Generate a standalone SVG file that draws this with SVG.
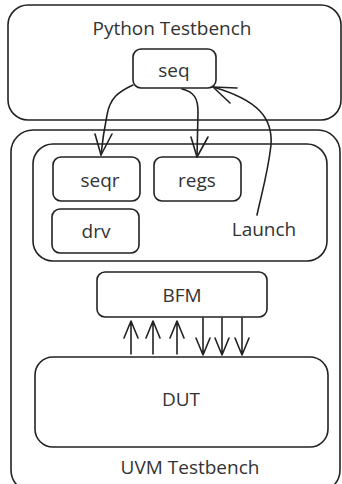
<svg xmlns="http://www.w3.org/2000/svg" width="342" height="484" viewBox="0 0 342 484">
<style>
.box{fill:#fff;stroke:#222;stroke-width:1.6}
.cont{fill:none;stroke:#222;stroke-width:1.6}
.t{font-family:"Open Sans","Noto Sans",sans-serif;font-size:19px;fill:#333;text-anchor:middle}
.c{fill:none;stroke:#222;stroke-width:1.6;stroke-linecap:round;stroke-linejoin:round}
</style>
<rect width="342" height="484" fill="#fff"/>
<g id="python_tb">
<rect class="cont" x="8" y="5" width="333" height="115" rx="20"/>
<text class="t" x="172" y="35">Python Testbench</text>
</g>
<g id="uvm_tb">
<rect class="cont" x="11" y="130" width="329" height="362" rx="22"/>
<text class="t" x="190" y="474">UVM Testbench</text>
</g>
<g id="agent">
<rect class="cont" x="33" y="144" width="294" height="117" rx="20"/>
</g>
<g id="seq">
<rect class="box" x="133" y="49" width="83" height="39" rx="8"/>
<text class="t" x="174" y="77">seq</text>
</g>
<g id="seqr">
<rect class="box" x="53" y="157" width="87" height="44" rx="8"/>
<text class="t" x="100" y="187">seqr</text>
</g>
<g id="regs">
<rect class="box" x="154" y="157" width="87" height="44" rx="8"/>
<text class="t" x="197" y="187">regs</text>
</g>
<g id="drv">
<rect class="box" x="52" y="209" width="87" height="44" rx="8"/>
<text class="t" x="96" y="238">drv</text>
</g>
<g id="bfm">
<rect class="box" x="97" y="272" width="170" height="45" rx="8"/>
<text class="t" x="182" y="302">BFM</text>
</g>
<g id="dut">
<rect class="box" x="35" y="357" width="293" height="90" rx="18"/>
<text class="t" x="181" y="406">DUT</text>
</g>
<g id="connectors">
<path class="c" d="M133 85 C118 92 110 98 107 115 C104 130 102 145 101 155"/>
<path class="c" d="M95 134 L101 155 L112 134"/>
<path class="c" d="M182 89 C194 92 198 98 198 112 L197 157"/>
<path class="c" d="M191 137 L197 157 L208 137"/>
<path class="c" d="M257 215 C262 192 268 172 271 145 C273 118 258 100 213 87"/>
<path class="c" d="M237 88 L213 87 L230 103"/>
<text class="t" x="264" y="236">Launch</text>
<path class="c" d="M131 354 L131 321 M124 338 L131 321 L138 338"/>
<path class="c" d="M153 354 L153 321 M146 338 L153 321 L160 338"/>
<path class="c" d="M177 354 L177 321 M170 338 L177 321 L184 338"/>
<path class="c" d="M203 318 L203 355 M196 338 L203 355 L210 338"/>
<path class="c" d="M222 318 L222 355 M215 338 L222 355 L229 338"/>
<path class="c" d="M242 318 L242 355 M235 338 L242 355 L249 338"/>
</g>
</svg>
